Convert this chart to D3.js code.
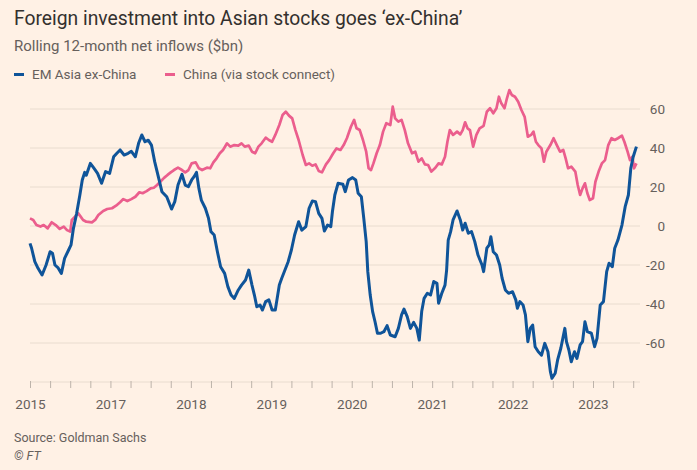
<!DOCTYPE html>
<html><head><meta charset="utf-8">
<script src="https://cdn.jsdelivr.net/npm/d3@7"></script>
<style>body{margin:0;background:#fff1e5;} svg{display:block;}</style>
</head><body><svg id="c" width="697" height="470"></svg>
<script>
// ---- data (decimal years, $bn) ----
const emTimes = [2016.00,2016.02,2016.06,2016.10,2016.15,2016.20,2016.25,2016.28,2016.31,2016.35,2016.39,2016.43,2016.48,2016.51,2016.54,2016.58,2016.62,2016.65,2016.68,2016.70,2016.75,2016.79,2016.84,2016.89,2016.94,2016.99,2017.04,2017.08,2017.12,2017.17,2017.22,2017.26,2017.31,2017.35,2017.39,2017.43,2017.47,2017.51,2017.55,2017.60,2017.64,2017.70,2017.76,2017.80,2017.84,2017.89,2017.93,2017.97,2018.01,2018.04,2018.07,2018.10,2018.13,2018.18,2018.22,2018.25,2018.29,2018.33,2018.37,2018.42,2018.46,2018.50,2018.54,2018.59,2018.63,2018.68,2018.72,2018.76,2018.79,2018.82,2018.86,2018.89,2018.93,2018.97,2019.01,2019.05,2019.10,2019.13,2019.17,2019.21,2019.25,2019.29,2019.34,2019.38,2019.43,2019.47,2019.51,2019.55,2019.59,2019.63,2019.66,2019.70,2019.74,2019.76,2019.79,2019.83,2019.89,2019.92,2019.96,2020.01,2020.05,2020.08,2020.12,2020.15,2020.18,2020.20,2020.23,2020.26,2020.29,2020.32,2020.36,2020.40,2020.44,2020.48,2020.54,2020.58,2020.62,2020.65,2020.69,2020.73,2020.77,2020.81,2020.84,2020.87,2020.90,2020.94,2020.98,2021.02,2021.06,2021.08,2021.12,2021.16,2021.18,2021.20,2021.23,2021.26,2021.31,2021.35,2021.38,2021.41,2021.45,2021.49,2021.53,2021.57,2021.62,2021.64,2021.68,2021.71,2021.73,2021.76,2021.80,2021.84,2021.87,2021.91,2021.95,2022.00,2022.04,2022.06,2022.09,2022.13,2022.16,2022.19,2022.22,2022.25,2022.28,2022.32,2022.36,2022.40,2022.44,2022.47,2022.49,2022.53,2022.56,2022.60,2022.65,2022.67,2022.70,2022.73,2022.77,2022.80,2022.84,2022.87,2022.90,2022.93,2022.98,2023.02,2023.05,2023.09,2023.13,2023.17,2023.20,2023.24,2023.27,2023.31,2023.36,2023.40,2023.44,2023.47,2023.50,2023.54];
const emValues = [-8.9,-11.4,-18.3,-21.7,-25.1,-20,-13.2,-14,-20,-21.5,-24.3,-16.6,-12.3,-9.7,-1.2,6.5,15.9,23.6,27.5,26,32.1,29.9,27,21.9,27.9,27,35.5,37.3,39,36.4,37.3,38.3,35.5,42.4,46.7,43.2,44,41.5,33,24.5,17.6,15,8.7,12.5,21,26.5,21,20.2,23.6,25.3,27.5,19.3,13.3,9.1,3.9,-2.9,-4.6,-13.2,-20.9,-24.3,-31.1,-35.4,-37.1,-32.8,-30.3,-27.7,-22.6,-30.3,-35.4,-41.4,-40.5,-43.1,-38.8,-37.9,-43.1,-43.1,-30.3,-26.8,-22.6,-18.3,-12.3,-4.6,2.2,-2.1,-0.3,9.1,12.8,12.5,6.5,3.9,-2.6,0.5,-0.3,7.3,15.9,21.9,21.4,17.6,23.6,24.8,23.6,16.8,15,3.9,-8,-23.4,-35.4,-43.9,-49.1,-55,-55,-54.2,-51.1,-55.9,-56.8,-52.5,-45.6,-42.6,-46.5,-52.5,-49.4,-52.5,-58.5,-43.9,-37.1,-34.5,-35.4,-28.5,-29.4,-39.6,-34.5,-30.3,-22.6,-7.2,-2.9,3.1,7.7,3.1,-2.1,1.4,-3.7,-2.9,-8,-14.9,-20,-23.4,-11.4,-9.7,-5.5,-13.2,-14.9,-20,-26.8,-32.8,-34.5,-33.7,-37.9,-42.2,-38.8,-40.5,-45.6,-59.3,-52.5,-50.8,-61.9,-64.5,-66.2,-60.2,-64.5,-74.7,-78.1,-75.5,-68.7,-62.7,-52.5,-59.3,-63.6,-69.6,-64.5,-67.9,-61,-59.3,-49.1,-54.2,-55,-61.9,-57.6,-40.5,-38.8,-23.4,-19.1,-20.9,-11.4,-7.2,0.5,9.9,15.9,29.6,35.5,40.7];
const chinaTimes = [2016.00,2016.04,2016.08,2016.13,2016.17,2016.22,2016.27,2016.32,2016.37,2016.42,2016.46,2016.50,2016.52,2016.56,2016.60,2016.63,2016.66,2016.70,2016.77,2016.81,2016.85,2016.91,2016.96,2017.02,2017.07,2017.12,2017.16,2017.21,2017.26,2017.31,2017.36,2017.40,2017.45,2017.50,2017.54,2017.58,2017.62,2017.67,2017.71,2017.75,2017.79,2017.84,2017.89,2017.93,2017.97,2018.01,2018.06,2018.10,2018.14,2018.20,2018.24,2018.28,2018.32,2018.36,2018.40,2018.45,2018.49,2018.54,2018.59,2018.63,2018.67,2018.72,2018.76,2018.80,2018.84,2018.88,2018.93,2018.97,2019.01,2019.05,2019.10,2019.14,2019.18,2019.22,2019.26,2019.30,2019.34,2019.39,2019.43,2019.47,2019.51,2019.55,2019.59,2019.63,2019.68,2019.72,2019.77,2019.81,2019.86,2019.90,2019.94,2019.99,2020.03,2020.06,2020.10,2020.14,2020.18,2020.21,2020.24,2020.27,2020.31,2020.35,2020.39,2020.43,2020.48,2020.51,2020.54,2020.58,2020.62,2020.66,2020.70,2020.75,2020.79,2020.83,2020.87,2020.91,2020.95,2020.99,2021.04,2021.08,2021.12,2021.16,2021.19,2021.22,2021.26,2021.31,2021.35,2021.38,2021.41,2021.44,2021.47,2021.51,2021.55,2021.59,2021.64,2021.68,2021.72,2021.76,2021.80,2021.83,2021.86,2021.90,2021.93,2021.96,2021.99,2022.03,2022.07,2022.11,2022.15,2022.19,2022.23,2022.26,2022.29,2022.32,2022.36,2022.39,2022.42,2022.47,2022.51,2022.55,2022.59,2022.63,2022.66,2022.69,2022.73,2022.78,2022.81,2022.84,2022.87,2022.90,2022.93,2022.96,2023.00,2023.03,2023.07,2023.11,2023.15,2023.19,2023.23,2023.27,2023.31,2023.36,2023.39,2023.43,2023.46,2023.49,2023.51,2023.54];
const chinaValues = [3.9,3.1,0.5,-0.3,0.5,-1.2,1.9,0.5,-1.5,-0.3,-2.1,-2.9,3.1,4.8,6.5,4.8,3.1,2.2,1.9,3.1,5.6,7.7,8.7,9.1,10.4,12.2,13.8,12.8,13.8,15,17.3,16.8,17.9,19.3,19.6,21,22.7,24.8,26.2,27.5,28.7,29.9,28.7,27.5,28.7,32.1,32.6,29.6,28.7,29.9,29.6,32.6,34.7,37.3,39,42.4,40.7,41.5,41.2,42.4,40.7,41.2,38.1,37.3,40.7,42.4,45.3,44.1,43.2,46.7,51.8,56.9,58.6,56.6,55.2,49.2,44.1,36.4,31.3,32.1,30.9,31.6,28.2,27.5,31.6,33.8,37.3,39.8,39,41.5,45,50.9,54.4,50.1,49.2,44.1,38.1,29.6,28.7,32.1,37.3,41.5,48.4,52.7,51.8,61.2,55.2,53.5,54.4,49.2,42.4,37.3,38.1,33,34.7,31.6,31.3,27.9,29.9,32.1,31.6,35.5,43.2,49.2,46.7,48.4,47,49.2,53.2,50.1,49.2,40.7,46.7,50.1,51.4,58.6,60.4,57.8,60.4,66.3,62.9,60.4,65.5,69.7,67.2,66.3,63.7,59.5,56,45.8,46.7,48.4,43.2,41.5,39.8,33,38.1,41.5,45,41.5,38.1,39,34.7,29.6,30.4,27.9,21,15.9,19.3,21.9,16.8,13.3,14.2,22.7,27.9,32.1,33.8,41.5,45,44.1,45,46.3,43.2,38.1,33.8,35.5,29.6,32.1];
const seriesNames = ["EM Asia ex-China", "China (via stock connect)"];
const yTickValues = [-60,-40,-20,0,20,40,60];
const xTickYears = [2016,2017,2018,2019,2020,2021,2022,2023];
const xTickLabels = ["2015","2017","2018","2019","2020","2021","2022","2023"];

// ---- drawing ----
const BLUE = "#0f5499", PINK = "#eb5e8d";
const TXT = "#33302e", MUTED = "#66605c", GRID = "#e9dccf";
const FONT = "Roboto, 'Noto Sans', sans-serif";
const svg = d3.select("#c");
svg.append("rect").attr("width",697).attr("height",470).attr("fill","#fff1e5");

const x = d3.scaleLinear().domain([2016, 2023]).range([30, 593]);
const y = d3.scaleLinear().domain([-80, 60]).range([382, 109]);

// title etc
svg.append("text").attr("x",14).attr("y",25).attr("fill",TXT)
  .style("font-family",FONT).style("font-size","19.3px")
  .text("Foreign investment into Asian stocks goes \u2018ex-China\u2019");
svg.append("text").attr("x",14).attr("y",51).attr("fill",MUTED)
  .style("font-family",FONT).style("font-size","15px")
  .text("Rolling 12-month net inflows ($bn)");

const legend = svg.append("g");
const legX = [14, 165];
[BLUE, PINK].forEach((c,i)=>{
  legend.append("line").attr("x1",legX[i]).attr("x2",legX[i]+10).attr("y1",74.5).attr("y2",74.5)
    .attr("stroke",c).attr("stroke-width",3);
  legend.append("text").attr("x",legX[i]+18).attr("y",79).attr("fill",MUTED)
    .style("font-family",FONT).style("font-size","13.5px").text(seriesNames[i]);
});

// gridlines
const grid = svg.append("g");
grid.selectAll("line").data(yTickValues.concat([-80])).join("line")
  .attr("x1",30).attr("x2",640).attr("y1",d=>y(d)).attr("y2",d=>y(d))
  .attr("stroke",GRID).attr("stroke-width",1);

// y axis labels (right)
const yAxis = d3.axisRight(y).tickValues(yTickValues).tickSize(0).tickPadding(0)
  .tickFormat(d=>d3.format("d")(d).replace("\u2212","-"));
const ya = svg.append("g").attr("transform","translate(665,0)").call(yAxis);
ya.select(".domain").remove();
ya.selectAll("text").attr("text-anchor","end").attr("fill",MUTED)
  .style("font-family",FONT).style("font-size","13.5px");

// x axis
const minor = d3.range(2016, 2023.51, 0.25);
const xMinor = d3.axisBottom(x).tickValues(minor).tickSize(7).tickFormat("");
const xm = svg.append("g").attr("transform","translate(0,381)").call(xMinor);
xm.select(".domain").remove();
xm.selectAll("line").attr("stroke","#bdb3aa");
const xAxis = d3.axisBottom(x).tickValues(xTickYears).tickSize(0).tickPadding(0)
  .tickFormat((d,i)=>xTickLabels[i]);
const xa = svg.append("g").attr("transform","translate(0,399)").call(xAxis);
xa.select(".domain").remove();
xa.selectAll("text").attr("fill",MUTED).style("font-family",FONT).style("font-size","13.5px");

// lines
const line = d3.line().x(d=>x(d[0])).y(d=>y(d[1])).curve(d3.curveLinear);
const china = chinaTimes.map((t,i)=>[t, chinaValues[i]]);
const em = emTimes.map((t,i)=>[t, emValues[i]]);
svg.append("path").datum(china).attr("d",line).attr("fill","none")
  .attr("stroke",PINK).attr("stroke-width",2.7).attr("stroke-linejoin","round");
svg.append("path").datum(em).attr("d",line).attr("fill","none")
  .attr("stroke",BLUE).attr("stroke-width",3).attr("stroke-linejoin","round");

// footer
svg.append("text").attr("x",14).attr("y",442).attr("fill",MUTED)
  .style("font-family",FONT).style("font-size","12.5px").text("Source: Goldman Sachs");
svg.append("text").attr("x",14).attr("y",460).attr("fill",MUTED)
  .style("font-family",FONT).style("font-size","12.5px").style("font-style","italic").text("\u00a9 FT");
</script></body></html>
